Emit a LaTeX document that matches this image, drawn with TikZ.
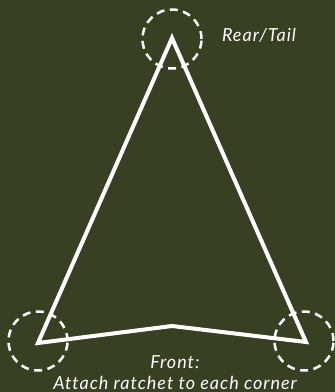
\documentclass[tikz,border=0pt]{standalone}
\usepackage{fontspec}
\setmainfont{Lato}
\newfontfamily\lblfont[LetterSpace=5.5,Ligatures=NoCommon]{Lato}
\begin{document}
\begin{tikzpicture}[x=1pt,y=-1pt,
  corner/.style={draw=white,line width=2.5pt,dash pattern=on 8pt off 5.5pt,circle,minimum size=59pt,inner sep=0pt},
  lbl/.style={text=white,font=\lblfont\itshape\fontsize{18}{20}\selectfont,align=center,inner sep=0pt}]
\fill[fill={rgb,255:red,56;green,64;blue,35}] (0,0) rectangle (335,392);
\useasboundingbox (0,0) rectangle (335,392);
\coordinate (T) at (172,38);
\coordinate (L) at (38,343);
\coordinate (M) at (172,326);
\coordinate (R) at (306,342);
\draw[white,line width=4pt,line join=miter] (T) -- (L) -- (M) -- (R) -- cycle;
\node[corner] (ct) at (172,39) {};
\node[corner] (cl) at (38,341) {};
\node[corner] (cr) at (304,341) {};
\node[lbl] (rear) at (259,35) {Rear/Tail};
\node[lbl] (front) at (175,362) {Front:};
\node[lbl] (att) at (175,383) {Attach ratchet to each corner};
\end{tikzpicture}
\end{document}
